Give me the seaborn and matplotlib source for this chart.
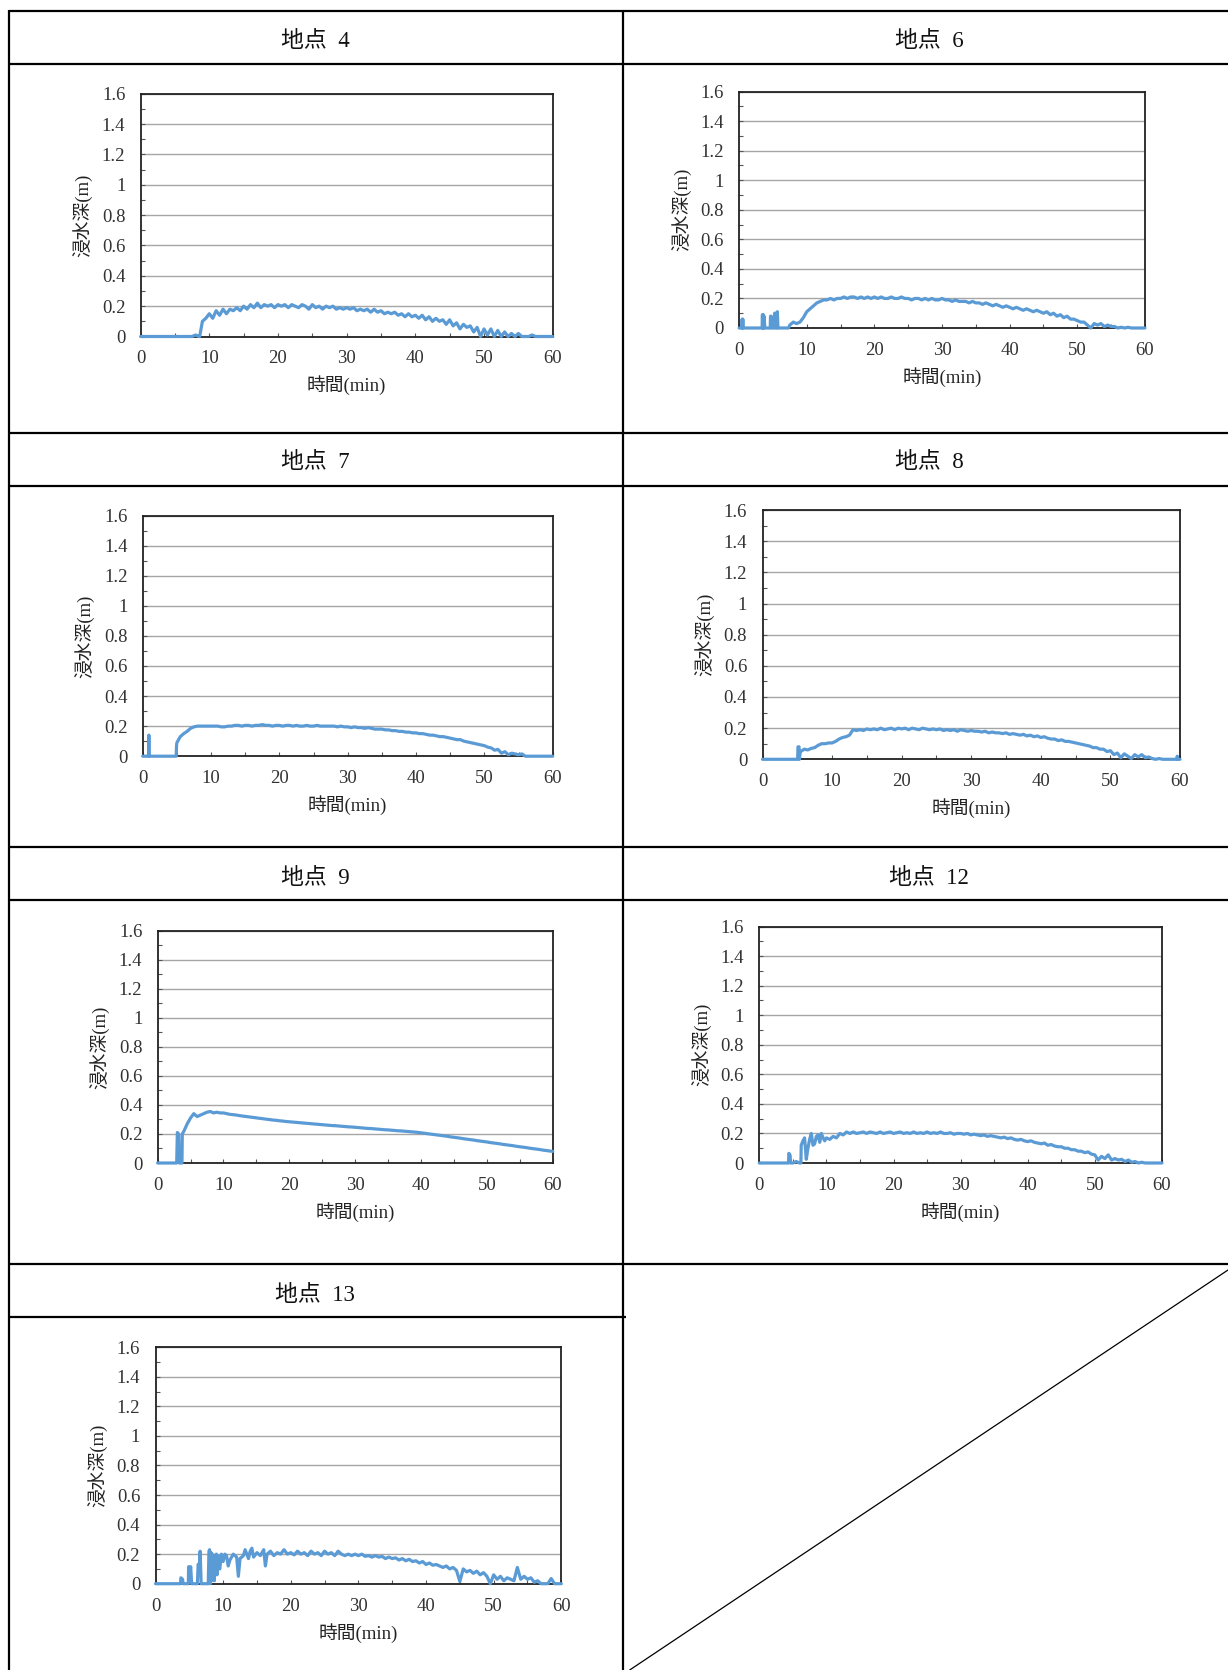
import numpy as np
import pandas as pd
import matplotlib
matplotlib.use("Agg")
import matplotlib.pyplot as plt
import seaborn as sns
from matplotlib.ticker import MultipleLocator, FuncFormatter

sns.set_theme(style="white")
plt.rcParams['font.family'] = ['Liberation Serif', 'Noto Sans CJK JP', 'DejaVu Sans']

# sampling grid (min), every 0.5 min
minutes = np.arange(0, 60.5, 0.5)

# water depth (m), one row = 5 minutes
depth_p4 = [0, 0, 0, 0, 0, 0, 0, 0, 0, 0,
            0, 0, 0, 0, 0, 0, 0.01, 0, 0.10, 0.12,
            0.15, 0.12, 0.17, 0.14, 0.18, 0.15, 0.18, 0.17, 0.19, 0.17,
            0.20, 0.18, 0.21, 0.19, 0.22, 0.19, 0.21, 0.20, 0.21, 0.19,
            0.21, 0.20, 0.21, 0.19, 0.21, 0.20, 0.19, 0.21, 0.20, 0.18,
            0.21, 0.19, 0.20, 0.18, 0.20, 0.19, 0.20, 0.18, 0.19, 0.18,
            0.19, 0.18, 0.19, 0.17, 0.18, 0.17, 0.18, 0.16, 0.18, 0.16,
            0.17, 0.15, 0.16, 0.15, 0.16, 0.14, 0.15, 0.13, 0.15, 0.13,
            0.14, 0.12, 0.14, 0.11, 0.13, 0.10, 0.12, 0.10, 0.11, 0.08,
            0.11, 0.07, 0.09, 0.05, 0.08, 0.06, 0.07, 0.03, 0.06, 0.00,
            0.05, 0.01, 0.05, 0.00, 0.04, 0.00, 0.03, 0.00, 0.02, 0.00,
            0.02, 0, 0, 0, 0.01, 0, 0, 0, 0, 0,
            0]
extra_t_p4 = [8.6]
extra_d_p4 = [0.0]

depth_p6 = [0, 0, 0, 0, 0, 0, 0, 0, 0, 0,
            0, 0, 0, 0, 0, 0.02, 0.04, 0.03, 0.04, 0.07,
            0.11, 0.13, 0.15, 0.17, 0.18, 0.19, 0.19, 0.20, 0.19, 0.20,
            0.20, 0.21, 0.20, 0.21, 0.21, 0.20, 0.21, 0.20, 0.21, 0.20,
            0.21, 0.20, 0.21, 0.20, 0.20, 0.21, 0.20, 0.20, 0.21, 0.20,
            0.20, 0.19, 0.20, 0.20, 0.19, 0.20, 0.19, 0.20, 0.19, 0.19,
            0.20, 0.19, 0.19, 0.18, 0.19, 0.18, 0.18, 0.18, 0.17, 0.18,
            0.17, 0.17, 0.16, 0.17, 0.16, 0.15, 0.16, 0.15, 0.14, 0.15,
            0.14, 0.13, 0.14, 0.13, 0.12, 0.13, 0.12, 0.11, 0.12, 0.11,
            0.10, 0.11, 0.09, 0.10, 0.08, 0.09, 0.07, 0.08, 0.06, 0.06,
            0.05, 0.04, 0.04, 0.02, 0.00, 0.03, 0.02, 0.03, 0.01, 0.02,
            0.01, 0.01, 0.0, 0.005, 0.0, 0.005, 0, 0, 0, 0,
            0]
extra_t_p6 = [0.4, 0.45, 0.55, 0.6, 3.4, 3.45, 3.55, 3.6, 3.65, 3.7, 3.8,
              4.6, 4.65, 4.75, 4.8, 4.9, 5.2, 5.25, 5.35, 5.4, 5.6, 5.65, 5.75, 7.3]
extra_d_p6 = [0, 0.06, 0.06, 0, 0, 0.09, 0.09, 0, 0, 0.08, 0,
              0, 0.08, 0.08, 0, 0.07, 0, 0.10, 0.10, 0, 0, 0.11, 0, 0]

depth_p7 = [0, 0, 0, 0, 0, 0, 0, 0, 0, 0,
            0.09, 0.13, 0.15, 0.165, 0.185, 0.195, 0.20, 0.20, 0.20, 0.20,
            0.20, 0.20, 0.20, 0.195, 0.195, 0.20, 0.20, 0.205, 0.205, 0.20,
            0.205, 0.205, 0.20, 0.205, 0.205, 0.21, 0.205, 0.205, 0.20, 0.205,
            0.205, 0.20, 0.205, 0.205, 0.20, 0.205, 0.20, 0.20, 0.205, 0.20,
            0.20, 0.205, 0.20, 0.20, 0.20, 0.20, 0.20, 0.195, 0.20, 0.195,
            0.195, 0.19, 0.195, 0.19, 0.19, 0.185, 0.19, 0.185, 0.18, 0.18,
            0.18, 0.175, 0.175, 0.17, 0.17, 0.165, 0.165, 0.16, 0.16, 0.155,
            0.155, 0.15, 0.15, 0.145, 0.14, 0.14, 0.135, 0.13, 0.13, 0.125,
            0.12, 0.115, 0.11, 0.11, 0.10, 0.095, 0.09, 0.085, 0.08, 0.075,
            0.07, 0.06, 0.055, 0.04, 0.045, 0.02, 0.03, 0.01, 0.02, 0.015,
            0.01, 0.015, 0, 0, 0, 0, 0, 0, 0, 0,
            0]
extra_t_p7 = [0.85, 0.9, 0.95, 4.9, 4.95]
extra_d_p7 = [0, 0.14, 0, 0, 0.07]

depth_p8 = [0, 0, 0, 0, 0, 0, 0, 0, 0, 0,
            0, 0.05, 0.065, 0.06, 0.07, 0.075, 0.09, 0.10, 0.10, 0.105,
            0.105, 0.115, 0.13, 0.14, 0.145, 0.155, 0.19, 0.185, 0.19, 0.185,
            0.195, 0.19, 0.195, 0.19, 0.20, 0.19, 0.195, 0.20, 0.19, 0.20,
            0.195, 0.20, 0.19, 0.20, 0.195, 0.19, 0.20, 0.195, 0.19, 0.195,
            0.19, 0.195, 0.185, 0.19, 0.185, 0.19, 0.18, 0.19, 0.185, 0.18,
            0.185, 0.18, 0.18, 0.175, 0.18, 0.17, 0.175, 0.17, 0.17, 0.165,
            0.17, 0.16, 0.165, 0.16, 0.155, 0.16, 0.15, 0.155, 0.145, 0.15,
            0.14, 0.145, 0.135, 0.13, 0.13, 0.12, 0.125, 0.115, 0.115, 0.11,
            0.105, 0.10, 0.095, 0.09, 0.085, 0.075, 0.075, 0.065, 0.065, 0.05,
            0.055, 0.03, 0.04, 0.01, 0.035, 0.02, 0.005, 0.03, 0.015, 0.03,
            0.01, 0.015, 0.005, 0, 0.005, 0, 0, 0, 0, 0,
            0]
extra_t_p8 = [5.05, 5.1, 5.25, 5.3, 5.4, 59.55, 59.6, 59.7]
extra_d_p8 = [0, 0.08, 0.08, 0.0, 0.04, 0, 0.02, 0]

depth_p9 = [0, 0, 0, 0, 0, 0, 0.21, 0, 0.22, 0.27,
            0.31, 0.34, 0.32, 0.33, 0.34, 0.35, 0.355, 0.345, 0.35, 0.345,
            0.345, 0.34, 0.335, 0.333, 0.33, 0.326, 0.323, 0.32, 0.317, 0.314,
            0.311, 0.308, 0.305, 0.302, 0.299, 0.296, 0.294, 0.291, 0.289, 0.286,
            0.284, 0.282, 0.28, 0.278, 0.276, 0.274, 0.272, 0.27, 0.268, 0.266,
            0.264, 0.262, 0.26, 0.258, 0.257, 0.255, 0.253, 0.251, 0.249, 0.248,
            0.246, 0.244, 0.242, 0.24, 0.238, 0.237, 0.235, 0.233, 0.231, 0.229,
            0.228, 0.226, 0.224, 0.222, 0.221, 0.219, 0.217, 0.215, 0.213, 0.211,
            0.208, 0.205, 0.202, 0.199, 0.196, 0.193, 0.190, 0.187, 0.184, 0.180,
            0.177, 0.174, 0.171, 0.167, 0.164, 0.161, 0.158, 0.154, 0.151, 0.148,
            0.145, 0.141, 0.138, 0.135, 0.132, 0.128, 0.125, 0.122, 0.119, 0.115,
            0.112, 0.109, 0.106, 0.102, 0.099, 0.096, 0.093, 0.089, 0.086, 0.083,
            0.08]
extra_t_p9 = [2.9, 3.2, 3.3, 3.7, 3.75]
extra_d_p9 = [0, 0.20, 0, 0, 0.20]

depth_p12 = [0, 0, 0, 0, 0, 0, 0, 0, 0, 0.06,
             0, 0.01, 0, 0.15, 0.025, 0.16, 0.12, 0.18, 0.14, 0.17,
             0.17, 0.16, 0.18, 0.17, 0.20, 0.19, 0.21, 0.20, 0.21, 0.20,
             0.205, 0.21, 0.20, 0.21, 0.205, 0.20, 0.21, 0.20, 0.205, 0.21,
             0.20, 0.205, 0.21, 0.20, 0.205, 0.20, 0.21, 0.20, 0.205, 0.20,
             0.21, 0.20, 0.205, 0.20, 0.21, 0.20, 0.20, 0.205, 0.195, 0.20,
             0.20, 0.195, 0.20, 0.19, 0.195, 0.19, 0.185, 0.19, 0.18, 0.185,
             0.18, 0.175, 0.17, 0.175, 0.165, 0.17, 0.16, 0.155, 0.16, 0.15,
             0.145, 0.15, 0.14, 0.135, 0.13, 0.135, 0.12, 0.125, 0.115, 0.11,
             0.11, 0.10, 0.10, 0.09, 0.09, 0.08, 0.08, 0.07, 0.075, 0.06,
             0.055, 0.02, 0.045, 0.03, 0.055, 0.02, 0.03, 0.02, 0.025, 0.01,
             0.02, 0.005, 0.01, 0, 0.005, 0, 0, 0, 0, 0,
             0]
extra_t_p12 = [4.35, 4.4, 4.6, 4.65, 6.2, 6.25, 6.75, 7.25, 7.75, 8.25, 8.75, 9.25, 9.75]
extra_d_p12 = [0, 0.065, 0.05, 0, 0, 0.12, 0.17, 0.10, 0.20, 0.13, 0.19, 0.20, 0.15]

depth_p13 = [0, 0, 0, 0, 0, 0, 0, 0, 0.03, 0,
             0.11, 0, 0, 0.13, 0, 0, 0.23, 0.05, 0.20, 0.10,
             0.15, 0.19, 0.16, 0.20, 0.18, 0.17, 0.19, 0.20, 0.22, 0.18,
             0.21, 0.19, 0.23, 0.20, 0.22, 0.19, 0.21, 0.20, 0.23, 0.20,
             0.21, 0.195, 0.22, 0.20, 0.21, 0.19, 0.22, 0.20, 0.21, 0.19,
             0.22, 0.20, 0.21, 0.19, 0.22, 0.20, 0.19, 0.20, 0.19, 0.20,
             0.19, 0.20, 0.185, 0.19, 0.18, 0.19, 0.18, 0.185, 0.17, 0.18,
             0.17, 0.175, 0.16, 0.17, 0.155, 0.165, 0.15, 0.155, 0.14, 0.15,
             0.13, 0.14, 0.125, 0.13, 0.12, 0.11, 0.12, 0.10, 0.11, 0.09,
             0.015, 0.10, 0.08, 0.09, 0.07, 0.085, 0.06, 0.075, 0.05, 0.0,
             0.06, 0.03, 0.05, 0.02, 0.04, 0.03, 0.02, 0.11, 0.03, 0.05,
             0.03, 0.04, 0.01, 0.02, 0, 0, 0, 0.035, 0, 0,
             0]
extra_t_p13 = [3.7, 3.75, 4.1, 4.85, 4.9, 5.1, 5.2, 5.35, 6.2, 6.3, 6.6, 6.75,
               7.8, 7.9, 8.1, 8.2, 8.3, 8.4, 8.6, 8.7, 8.8, 9.1, 9.25, 9.4, 9.75,
               10.25, 10.75, 12.25, 13.25, 13.75, 14.25, 16.25]
extra_d_p13 = [0, 0.04, 0, 0, 0.115, 0.07, 0.115, 0, 0, 0.13, 0.22, 0,
               0, 0.22, 0, 0.21, 0.02, 0.20, 0.18, 0.02, 0.19, 0.06, 0.19, 0.12, 0.20,
               0.20, 0.12, 0.05, 0.23, 0.17, 0.24, 0.12]

titles = ["地点 4", "地点 6", "地点 7", "地点 8", "地点 9", "地点 12", "地点 13"]
series = [(depth_p4, extra_t_p4, extra_d_p4), (depth_p6, extra_t_p6, extra_d_p6),
          (depth_p7, extra_t_p7, extra_d_p7), (depth_p8, extra_t_p8, extra_d_p8),
          (depth_p9, extra_t_p9, extra_d_p9), (depth_p12, extra_t_p12, extra_d_p12),
          (depth_p13, extra_t_p13, extra_d_p13)]

# page layout in pixels: axes box (left, right, top, bottom), header centre
W, H = 1228, 1670
boxes = [(140.6, 552.7, 93.7, 336.5), (739.1, 1144.9, 91.6, 328.0),
         (142.7, 552.7, 515.5, 756.2), (762.5, 1180.0, 510.1, 759.3),
         (157.6, 552.7, 930.8, 1163.0), (759.3, 1161.9, 926.6, 1163.0),
         (155.5, 561.3, 1347.2, 1583.7)]
heads = [(315, 41.5), (929, 41.5), (315, 463), (929, 463),
         (315, 878.5), (929, 878.5), (315, 1295.5)]

fig = plt.figure(figsize=(W / 100, H / 100), dpi=100)
fig.patch.set_facecolor('white')

# table frame
bg = fig.add_axes([0, 0, 1, 1], zorder=0)
bg.set_xlim(0, W)
bg.set_ylim(H, 0)
bg.axis('off')
for y in [11, 63.5, 432.5, 485.5, 847, 900, 1264]:
    bg.plot([8.7, W], [y, y], color='black', lw=1.6, solid_capstyle='butt')
bg.plot([8.7, 626], [1317, 1317], color='black', lw=1.6, solid_capstyle='butt')
for x in [8.7, 623]:
    bg.plot([x, x], [10.2, H], color='black', lw=1.6, solid_capstyle='butt')
bg.plot([629.7, W], [H, 1270], color='black', lw=0.9)

for (title, (d, et, ed), (L, R, T, B), (hx, hy)) in zip(titles, series, boxes, heads):
    bg.text(hx, hy, title.replace(' ', '  '), ha='center', va='center',
            fontsize=16.5, color='#111111')

    df = pd.concat([pd.DataFrame({'t': minutes, 'depth': d}),
                    pd.DataFrame({'t': et, 'depth': ed})], ignore_index=True)
    df = df.sort_values('t')

    ax = fig.add_axes([L / W, 1 - B / H, (R - L) / W, (B - T) / H], zorder=2)
    sns.lineplot(data=df, x='t', y='depth', ax=ax, color='#5B9BD5', lw=2.3,
                 estimator=None, sort=False, clip_on=False, zorder=4)
    ax.set_xlim(0, 60)
    ax.set_ylim(0, 1.6)
    ax.xaxis.set_major_locator(MultipleLocator(10))
    ax.xaxis.set_minor_locator(MultipleLocator(5))
    ax.yaxis.set_major_locator(MultipleLocator(0.2))
    ax.yaxis.set_minor_locator(MultipleLocator(0.1))
    ax.yaxis.set_major_formatter(FuncFormatter(lambda v, p: '{:g}'.format(round(v, 1))))
    ax.grid(axis='y', which='major', color='#a6a6a6', lw=1.0)
    ax.grid(axis='x', visible=False)
    ax.set_axisbelow(True)
    for s in ax.spines.values():
        s.set_visible(True)
        s.set_color('#222222')
        s.set_linewidth(1.3)
    ax.tick_params(axis='both', which='both', direction='in', color='#555555',
                   width=0.8, labelsize=13.5, labelcolor='#333333')
    ax.tick_params(axis='both', which='major', length=3)
    ax.tick_params(axis='both', which='minor', length=3)
    ax.tick_params(axis='x', which='both', bottom=True, pad=10)
    ax.tick_params(axis='y', which='both', left=True, pad=11)

    ax.set_xlabel('時間(min)', fontsize=13.5, color='#222222', va='center')
    ax.set_ylabel('浸水深(m)', fontsize=13.5, color='#222222', va='center')
    ax.xaxis.set_label_coords(0.5, -49 / (B - T))
    ax.yaxis.set_label_coords(-58 / (R - L), 0.5)
    leg = ax.get_legend()
    if leg is not None:
        leg.remove()

fig.savefig('out.png', dpi=100, facecolor='white')
